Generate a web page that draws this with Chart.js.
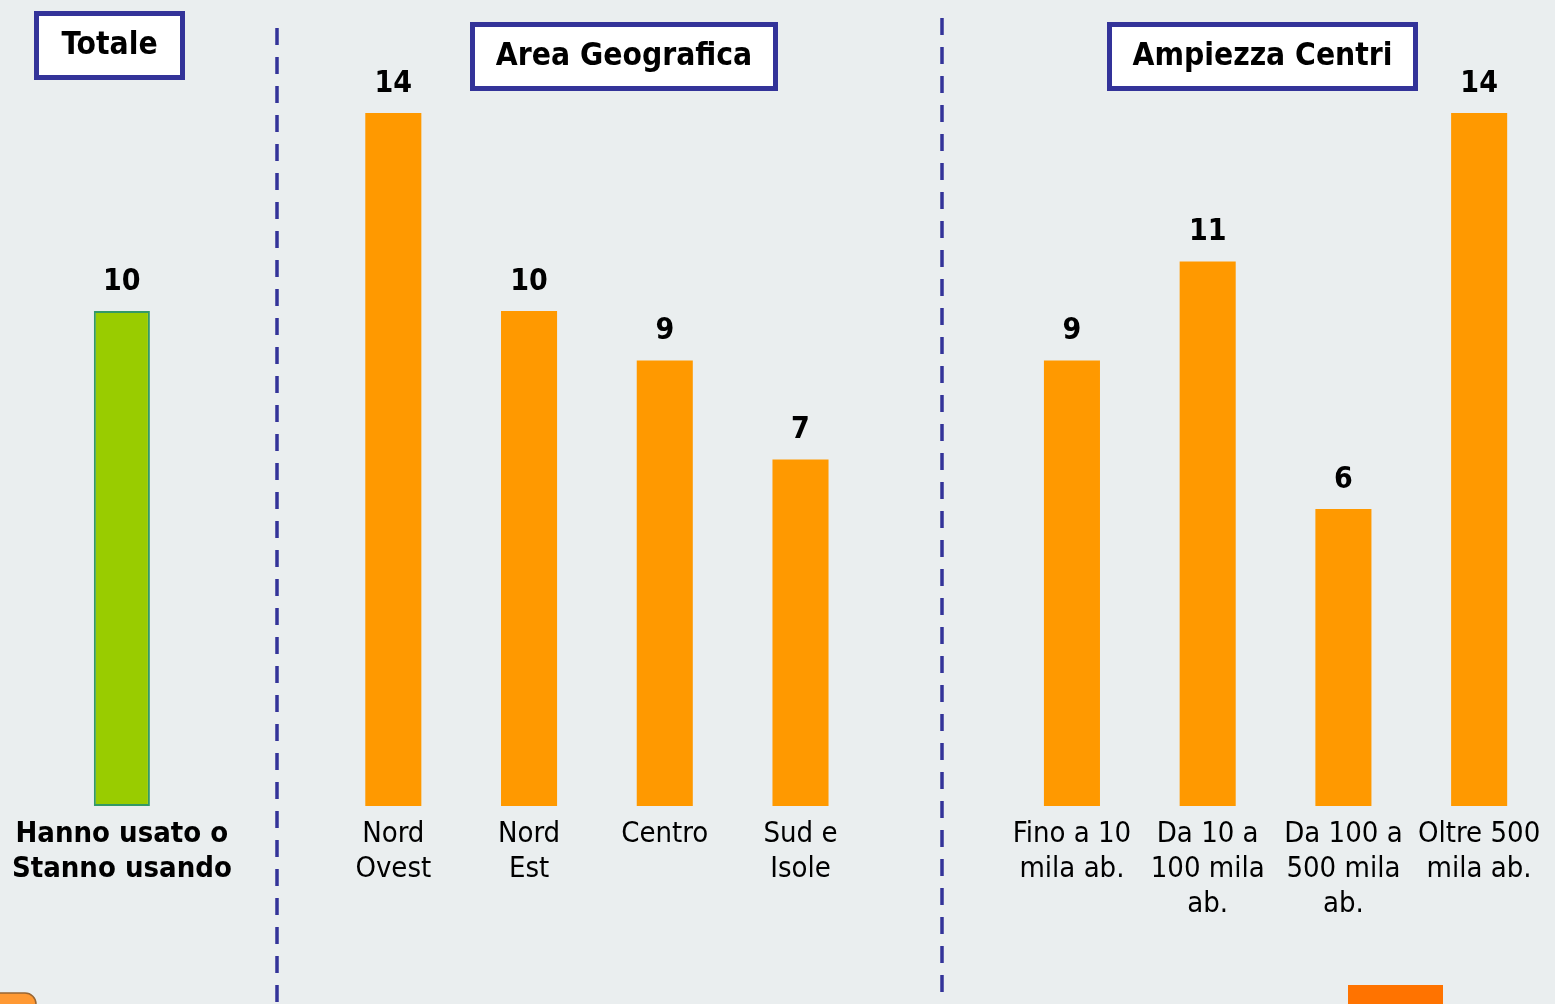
<!DOCTYPE html>
<html>
<head>
<meta charset="utf-8">
<script src="https://cdn.jsdelivr.net/npm/chart.js@4/dist/chart.umd.min.js"></script>
<style>
  html, body { margin: 0; padding: 0; background: #eaeeef; }
  #wrap { width: 1555px; height: 1004px; position: relative; }
</style>
</head>
<body>
<div id="wrap"><canvas id="myChart"></canvas></div>
<script>
// categories (empty slots are the gaps between groups)
const categories = [
    ['Hanno usato o', 'Stanno usando'],
    '',
    ['Nord', 'Ovest'],
    ['Nord', 'Est'],
    'Centro',
    ['Sud e', 'Isole'],
    '',
    ['Fino a 10', 'mila ab.'],
    ['Da 10 a', '100 mila', 'ab.'],
    ['Da 100 a', '500 mila', 'ab.'],
    ['Oltre 500', 'mila ab.']
];
const values = [10, null, 14, 10, 9, 7, null, 9, 11, 6, 14];
const groupTitles = ['Totale', 'Area Geografica', 'Ampiezza Centri'];

const BG = '#eaeeef';
const BLUE = '#333399';
const ORANGE = '#ff9900';
const GREEN = '#99cc00';

const barColors = values.map((v, i) => i === 0 ? GREEN : ORANGE);
const borderColors = values.map((v, i) => i === 0 ? '#339966' : ORANGE);
const borderWidths = values.map((v, i) => i === 0 ? 2 : 0);

const background = {
    id: 'background',
    beforeDraw(chart) {
        const ctx = chart.ctx;
        ctx.save();
        ctx.fillStyle = BG;
        ctx.fillRect(0, 0, chart.width, chart.height);
        ctx.restore();
    }
};

// dashed separators + title boxes + the cut-off shapes at the bottom
const decorations = {
    id: 'decorations',
    beforeDatasetsDraw(chart) {
        const ctx = chart.ctx;
        const x = chart.scales.x;
        ctx.save();
        ctx.strokeStyle = BLUE;
        ctx.lineWidth = 3.5;
        ctx.setLineDash([17, 12]);
        const seps = [[x.getPixelForValue(1.14), 28, 1004], [x.getPixelForValue(6.04), 18, 997]];
        seps.forEach(([px, y0, y1]) => {
            ctx.beginPath();
            ctx.moveTo(Math.round(px), y0);
            ctx.lineTo(Math.round(px), y1);
            ctx.stroke();
        });
        ctx.setLineDash([]);

        const boxes = [
            [groupTitles[0], 34, 11, 151, 69],
            [groupTitles[1], 470, 22, 308, 69],
            [groupTitles[2], 1107, 22, 311, 69]
        ];
        boxes.forEach(([t, bx, by, bw, bh]) => {
            ctx.fillStyle = '#ffffff';
            ctx.fillRect(bx, by, bw, bh);
            ctx.strokeStyle = BLUE;
            ctx.lineWidth = 5;
            ctx.strokeRect(bx + 2.5, by + 2.5, bw - 5, bh - 5);
            ctx.fillStyle = '#000';
            ctx.font = 'bold 31.5px "DejaVu Sans Condensed", "DejaVu Sans", sans-serif';
            ctx.textAlign = 'center';
            ctx.textBaseline = 'middle';
            ctx.fillText(t, bx + bw / 2, by + bh / 2);
        });

        // partially visible shapes at the bottom edge
        ctx.fillStyle = '#ff9933';
        ctx.strokeStyle = '#996633';
        ctx.lineWidth = 1.5;
        ctx.beginPath();
        ctx.roundRect(-14, 993, 50, 30, 11);
        ctx.fill();
        ctx.stroke();
        ctx.fillStyle = '#ff7300';
        ctx.fillRect(1348, 985, 95, 19);
        ctx.restore();
    }
};

const valueLabels = {
    id: 'valueLabels',
    afterDatasetsDraw(chart) {
        const ctx = chart.ctx;
        const meta = chart.getDatasetMeta(0);
        ctx.save();
        ctx.fillStyle = '#000';
        ctx.font = 'bold 30px "DejaVu Sans Condensed", "DejaVu Sans", sans-serif';
        ctx.textAlign = 'center';
        ctx.textBaseline = 'middle';
        meta.data.forEach((bar, i) => {
            if (values[i] === null) return;
            ctx.fillText(values[i], bar.x, bar.y - 29);
        });
        ctx.restore();
    }
};

const ctx = document.getElementById('myChart').getContext('2d');
const myChart = new Chart(ctx, {
    type: 'bar',
    data: {
        labels: categories,
        datasets: [{
            data: values,
            backgroundColor: barColors,
            borderColor: borderColors,
            borderWidth: borderWidths,
            borderSkipped: false,
            barPercentage: 1,
            categoryPercentage: 0.413
        }]
    },
    options: {
        responsive: true,
        maintainAspectRatio: false,
        animation: false,
        layout: { padding: { top: 113, left: 54, right: 8, bottom: 0 } },
        plugins: {
            legend: { display: false },
            tooltip: { enabled: false }
        },
        scales: {
            y: {
                display: false,
                min: 0,
                max: 14
            },
            x: {
                grid: { display: false },
                border: { display: false },
                afterFit(scale) { scale.height = 198; },
                ticks: {
                    autoSkip: false,
                    maxRotation: 0,
                    minRotation: 0,
                    padding: 3,
                    color: '#000',
                    font: (c) => ({
                        family: '"DejaVu Sans Condensed", "DejaVu Sans", sans-serif',
                        size: 29,
                        weight: c.index === 0 ? 'bold' : 'normal',
                        lineHeight: 1.21
                    })
                }
            }
        }
    },
    plugins: [background, decorations, valueLabels]
});
</script>
</body>
</html>
